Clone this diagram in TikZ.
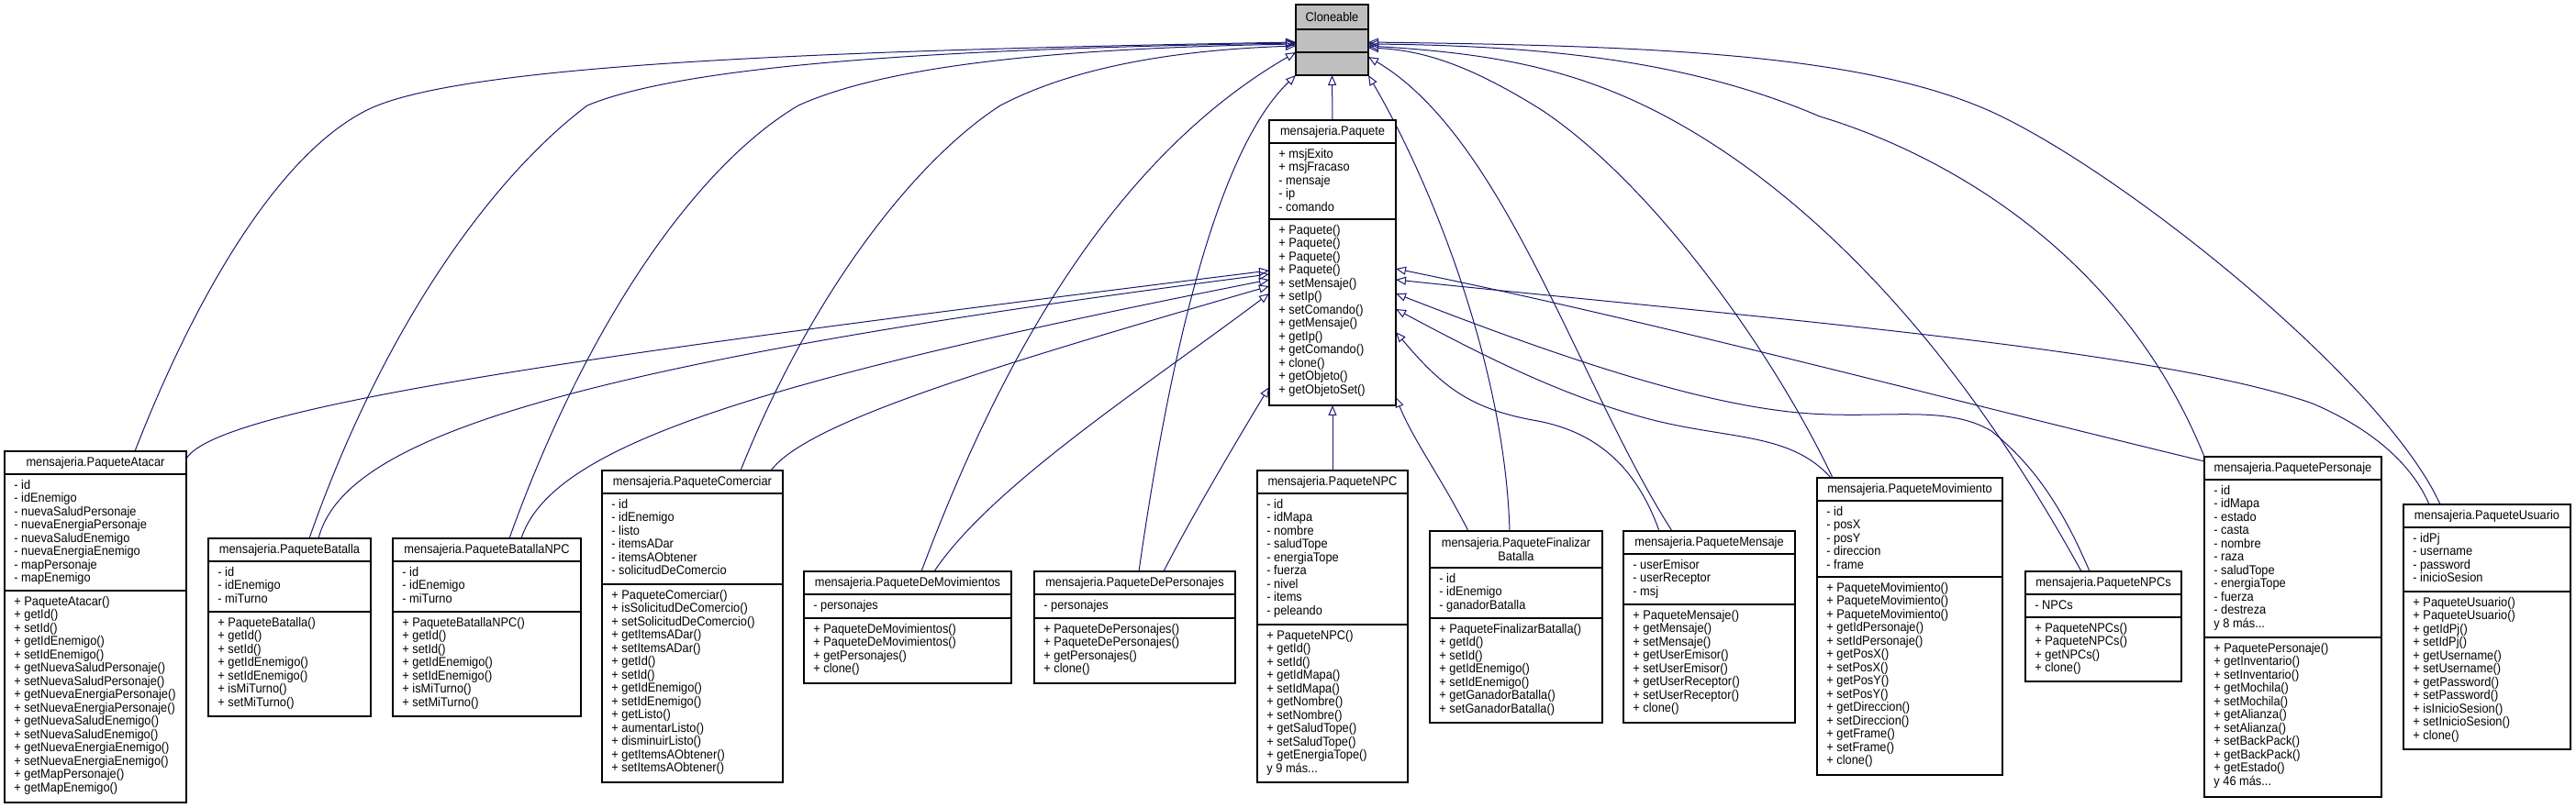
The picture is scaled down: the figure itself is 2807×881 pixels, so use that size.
\documentclass[tikz,border=0pt]{standalone}
\usepackage{fontspec}
\newfontfamily\umlfont[FakeStretch=0.915]{Liberation Sans}
\usetikzlibrary{arrows.meta,calc}
\definecolor{edgeblue}{HTML}{191970}
\definecolor{clgray}{HTML}{BFBFBF}
\pgfdeclarelayer{bg}
\pgfsetlayers{bg,main}
\newcommand\umlsize{\umlfont\fontsize{7}{7.25}\selectfont}
\tikzset{
  umlbox/.style={draw=black, line width=0.6pt, fill=white, anchor=north west, inner sep=0pt, outer sep=0pt},
  umlsep/.style={draw=black, line width=0.6pt},
  umltitle/.style={font=\umlsize, align=center, inner sep=0pt},
  umlsec/.style={font=\umlsize, align=left, anchor=north west, inner sep=0pt},
  inh/.style={draw=edgeblue, line width=0.5pt, -{Triangle[open, length=5.5pt, width=4.5pt]}},
}
% name, x1, y1, x2, y header line, y attr line, y bottom, title, extra style
\newcommand\umlclass[9]{%
  \pgfmathsetmacro\umlw{(#4-#2)*0.5}%
  \pgfmathsetmacro\umlh{(#7-#3)*0.5}%
  \node[umlbox, minimum width=\umlw pt, minimum height=\umlh pt, #9] (#1) at (#2,#3) {};
  \draw[umlsep] (#2,#5) -- (#4,#5) (#2,#6) -- (#4,#6);
  \node[umltitle] at ({(#2+#4)/2},{(#3+#5)/2}) {#8};
}
\newcommand\umlsec[3]{\node[umlsec] at ({#1+10},{#2+5.5}) {\strut #3};}
\begin{document}
\begin{tikzpicture}[x=0.5pt,y=-0.5pt]
\useasboundingbox (0,0) rectangle (2807,881);

\umlclass{cloneable}{1412}{5}{1491}{32}{57}{82}{Cloneable}{fill=clgray}

\umlclass{paquete}{1383}{131}{1521}{156}{239}{442}{mensajeria.Paquete}{}
\umlsec{1383}{156}{+ msjExito\\+ msjFracaso\\- mensaje\\- ip\\- comando}
\umlsec{1383}{239}{+ Paquete()\\+ Paquete()\\+ Paquete()\\+ Paquete()\\+ setMensaje()\\+ setIp()\\+ setComando()\\+ getMensaje()\\+ getIp()\\+ getComando()\\+ clone()\\+ getObjeto()\\+ getObjetoSet()}

\umlclass{atacar}{5}{492}{203}{517}{644}{875}{mensajeria.PaqueteAtacar}{}
\umlsec{5}{517}{- id\\- idEnemigo\\- nuevaSaludPersonaje\\- nuevaEnergiaPersonaje\\- nuevaSaludEnemigo\\- nuevaEnergiaEnemigo\\- mapPersonaje\\- mapEnemigo}
\umlsec{5}{644}{+ PaqueteAtacar()\\+ getId()\\+ setId()\\+ getIdEnemigo()\\+ setIdEnemigo()\\+ getNuevaSaludPersonaje()\\+ setNuevaSaludPersonaje()\\+ getNuevaEnergiaPersonaje()\\+ setNuevaEnergiaPersonaje()\\+ getNuevaSaludEnemigo()\\+ setNuevaSaludEnemigo()\\+ getNuevaEnergiaEnemigo()\\+ setNuevaEnergiaEnemigo()\\+ getMapPersonaje()\\+ getMapEnemigo()}

\umlclass{batalla}{227}{587}{404}{612}{667}{781}{mensajeria.PaqueteBatalla}{}
\umlsec{227}{612}{- id\\- idEnemigo\\- miTurno}
\umlsec{227}{667}{+ PaqueteBatalla()\\+ getId()\\+ setId()\\+ getIdEnemigo()\\+ setIdEnemigo()\\+ isMiTurno()\\+ setMiTurno()}

\umlclass{batallanpc}{428}{587}{633}{612}{667}{781}{mensajeria.PaqueteBatallaNPC}{}
\umlsec{428}{612}{- id\\- idEnemigo\\- miTurno}
\umlsec{428}{667}{+ PaqueteBatallaNPC()\\+ getId()\\+ setId()\\+ getIdEnemigo()\\+ setIdEnemigo()\\+ isMiTurno()\\+ setMiTurno()}

\umlclass{comerciar}{656}{513}{853}{538}{637}{853}{mensajeria.PaqueteComerciar}{}
\umlsec{656}{538}{- id\\- idEnemigo\\- listo\\- itemsADar\\- itemsAObtener\\- solicitudDeComercio}
\umlsec{656}{637}{+ PaqueteComerciar()\\+ isSolicitudDeComercio()\\+ setSolicitudDeComercio()\\+ getItemsADar()\\+ setItemsADar()\\+ getId()\\+ setId()\\+ getIdEnemigo()\\+ setIdEnemigo()\\+ getListo()\\+ aumentarListo()\\+ disminuirListo()\\+ getItemsAObtener()\\+ setItemsAObtener()}

\umlclass{demov}{876}{623}{1102}{648}{674}{745}{mensajeria.PaqueteDeMovimientos}{}
\umlsec{876}{648}{- personajes}
\umlsec{876}{674}{+ PaqueteDeMovimientos()\\+ PaqueteDeMovimientos()\\+ getPersonajes()\\+ clone()}

\umlclass{depers}{1127}{623}{1346}{648}{674}{745}{mensajeria.PaqueteDePersonajes}{}
\umlsec{1127}{648}{- personajes}
\umlsec{1127}{674}{+ PaqueteDePersonajes()\\+ PaqueteDePersonajes()\\+ getPersonajes()\\+ clone()}

\umlclass{npc}{1370}{513}{1534}{538}{681}{853}{mensajeria.PaqueteNPC}{}
\umlsec{1370}{538}{- id\\- idMapa\\- nombre\\- saludTope\\- energiaTope\\- fuerza\\- nivel\\- items\\- peleando}
\umlsec{1370}{681}{+ PaqueteNPC()\\+ getId()\\+ setId()\\+ getIdMapa()\\+ setIdMapa()\\+ getNombre()\\+ setNombre()\\+ getSaludTope()\\+ setSaludTope()\\+ getEnergiaTope()\\y 9 más...}

\umlclass{finbat}{1558}{579}{1746}{619}{674}{788}{mensajeria.PaqueteFinalizar\\Batalla}{}
\umlsec{1558}{619}{- id\\- idEnemigo\\- ganadorBatalla}
\umlsec{1558}{674}{+ PaqueteFinalizarBatalla()\\+ getId()\\+ setId()\\+ getIdEnemigo()\\+ setIdEnemigo()\\+ getGanadorBatalla()\\+ setGanadorBatalla()}

\umlclass{mensaje}{1769}{579}{1956}{604}{659}{788}{mensajeria.PaqueteMensaje}{}
\umlsec{1769}{604}{- userEmisor\\- userReceptor\\- msj}
\umlsec{1769}{659}{+ PaqueteMensaje()\\+ getMensaje()\\+ setMensaje()\\+ getUserEmisor()\\+ setUserEmisor()\\+ getUserReceptor()\\+ setUserReceptor()\\+ clone()}

\umlclass{movim}{1980}{521}{2182}{546}{629}{845}{mensajeria.PaqueteMovimiento}{}
\umlsec{1980}{546}{- id\\- posX\\- posY\\- direccion\\- frame}
\umlsec{1980}{629}{+ PaqueteMovimiento()\\+ PaqueteMovimiento()\\+ PaqueteMovimiento()\\+ getIdPersonaje()\\+ setIdPersonaje()\\+ getPosX()\\+ setPosX()\\+ getPosY()\\+ setPosY()\\+ getDireccion()\\+ setDireccion()\\+ getFrame()\\+ setFrame()\\+ clone()}

\umlclass{npcs}{2207}{623}{2377}{648}{673}{743}{mensajeria.PaqueteNPCs}{}
\umlsec{2207}{648}{- NPCs}
\umlsec{2207}{673}{+ PaqueteNPCs()\\+ PaqueteNPCs()\\+ getNPCs()\\+ clone()}

\umlclass{personaje}{2402}{498}{2595}{523}{695}{869}{mensajeria.PaquetePersonaje}{}
\umlsec{2402}{523}{- id\\- idMapa\\- estado\\- casta\\- nombre\\- raza\\- saludTope\\- energiaTope\\- fuerza\\- destreza\\y 8 más...}
\umlsec{2402}{695}{+ PaquetePersonaje()\\+ getInventario()\\+ setInventario()\\+ getMochila()\\+ setMochila()\\+ getAlianza()\\+ setAlianza()\\+ setBackPack()\\+ getBackPack()\\+ getEstado()\\y 46 más...}

\umlclass{usuario}{2619}{550}{2801}{575}{645}{817}{mensajeria.PaqueteUsuario}{}
\umlsec{2619}{575}{- idPj\\- username\\- password\\- inicioSesion}
\umlsec{2619}{645}{+ PaqueteUsuario()\\+ PaqueteUsuario()\\+ getIdPj()\\+ setIdPj()\\+ getUsername()\\+ setUsername()\\+ getPassword()\\+ setPassword()\\+ isInicioSesion()\\+ setInicioSesion()\\+ clone()}

\begin{pgfonlayer}{bg}
% straight edges
\draw[inh] (paquete.north) -- (cloneable.south);
\draw[inh] (npc.north) -- (paquete.south);
% left side to Cloneable
\draw[inh] ($(atacar.north west)+(142,0)$) .. controls (210,330) and (300,170) .. (400,120) .. controls (500,70) and (900,55) .. ($(cloneable.north west)+(0,41)$);
\draw[inh] ($(batalla.north west)+(110,0)$) .. controls (420,350) and (540,190) .. (640,115) .. controls (760,65) and (1100,52) .. ($(cloneable.north west)+(0,42)$);
\draw[inh] ($(batallanpc.north west)+(127,0)$) .. controls (640,350) and (760,180) .. (870,115) .. controls (980,65) and (1200,52) .. ($(cloneable.north west)+(0,43)$);
\draw[inh] ($(comerciar.north west)+(151,0)$) .. controls (880,330) and (990,180) .. (1090,115) .. controls (1180,68) and (1300,54) .. ($(cloneable.north west)+(0,45)$);
\draw[inh] ($(demov.north west)+(128,0)$) .. controls (1080,420) and (1200,180) .. ($(cloneable.north west)+(0,52)$);
\draw[inh] ($(depers.north west)+(114,0)$) .. controls (1270,420) and (1320,170) .. (cloneable.south west);
% left side to Paquete
\draw[inh] ($(atacar.north east)+(0,8)$) .. controls (240,440) and (700,380) .. ($(paquete.north west)+(0,164)$);
\draw[inh] ($(batalla.north west)+(120,0)$) .. controls (375,480) and (600,400) .. ($(paquete.north west)+(0,168)$);
\draw[inh] ($(batallanpc.north west)+(140,0)$) .. controls (600,490) and (800,420) .. ($(paquete.north west)+(0,174)$);
\draw[inh] ($(comerciar.north west)+(184,0)$) .. controls (880,460) and (1080,400) .. ($(paquete.north west)+(0,181)$);
\draw[inh] ($(demov.north west)+(142,0)$) .. controls (1080,530) and (1250,420) .. ($(paquete.north west)+(0,189)$);
\draw[inh] ($(depers.north west)+(141,0)$) .. controls (1300,560) and (1360,460) .. ($(paquete.north west)+(0,291)$);
% right side to Cloneable
\draw[inh] ($(finbat.north west)+(87,0)$) .. controls (1640,400) and (1560,200) .. (cloneable.south east);
\draw[inh] ($(mensaje.north west)+(53,0)$) .. controls (1720,420) and (1640,150) .. ($(cloneable.north east)+(0,57)$);
\draw[inh] ($(movim.north west)+(17,0)$) .. controls (1930,380) and (1800,200) .. (1680,120) .. controls (1600,70) and (1550,55) .. ($(cloneable.north east)+(0,47)$);
\draw[inh] ($(npcs.north west)+(61,0)$) .. controls (2200,500) and (2080,310) .. (1900,180) .. controls (1760,80) and (1650,60) .. ($(cloneable.north east)+(0,45)$);
\draw[inh] (personaje.north west) .. controls (2310,270) and (2110,165) .. (1983,127) .. controls (1850,70) and (1700,50) .. ($(cloneable.north east)+(0,43)$);
\draw[inh] ($(usuario.north west)+(40,0)$) .. controls (2600,420) and (2330,200) .. (2181,127) .. controls (2040,58) and (1800,50) .. ($(cloneable.north east)+(0,41)$);
% right side to Paquete
\draw[inh] ($(finbat.north west)+(42,0)$) .. controls (1570,520) and (1540,480) .. ($(paquete.north east)+(0,302)$);
\draw[inh] ($(mensaje.north west)+(39,0)$) .. controls (1780,500) and (1730,468) .. (1670,458) .. controls (1600,445) and (1570,420) .. ($(paquete.north east)+(0,231)$);
\draw[inh] ($(movim.north west)+(15,0)$) .. controls (1950,470) and (1880,480) .. (1790,455) .. controls (1700,430) and (1620,390) .. ($(paquete.north east)+(0,206)$);
\draw[inh] ($(npcs.north west)+(70,0)$) .. controls (2250,560) and (2220,510) .. (2170,470) .. controls (2120,440) and (2050,458) .. (1960,450) .. controls (1850,440) and (1700,390) .. ($(paquete.north east)+(0,189)$);
\draw[inh] ($(personaje.north west)+(0,5)$) .. controls (2100,430) and (1800,350) .. ($(paquete.north east)+(0,162)$);
\draw[inh] ($(usuario.north west)+(28,0)$) .. controls (2630,510) and (2590,470) .. (2520,440) .. controls (2350,380) and (1900,345) .. ($(paquete.north east)+(0,174)$);
\end{pgfonlayer}
\end{tikzpicture}
\end{document}
